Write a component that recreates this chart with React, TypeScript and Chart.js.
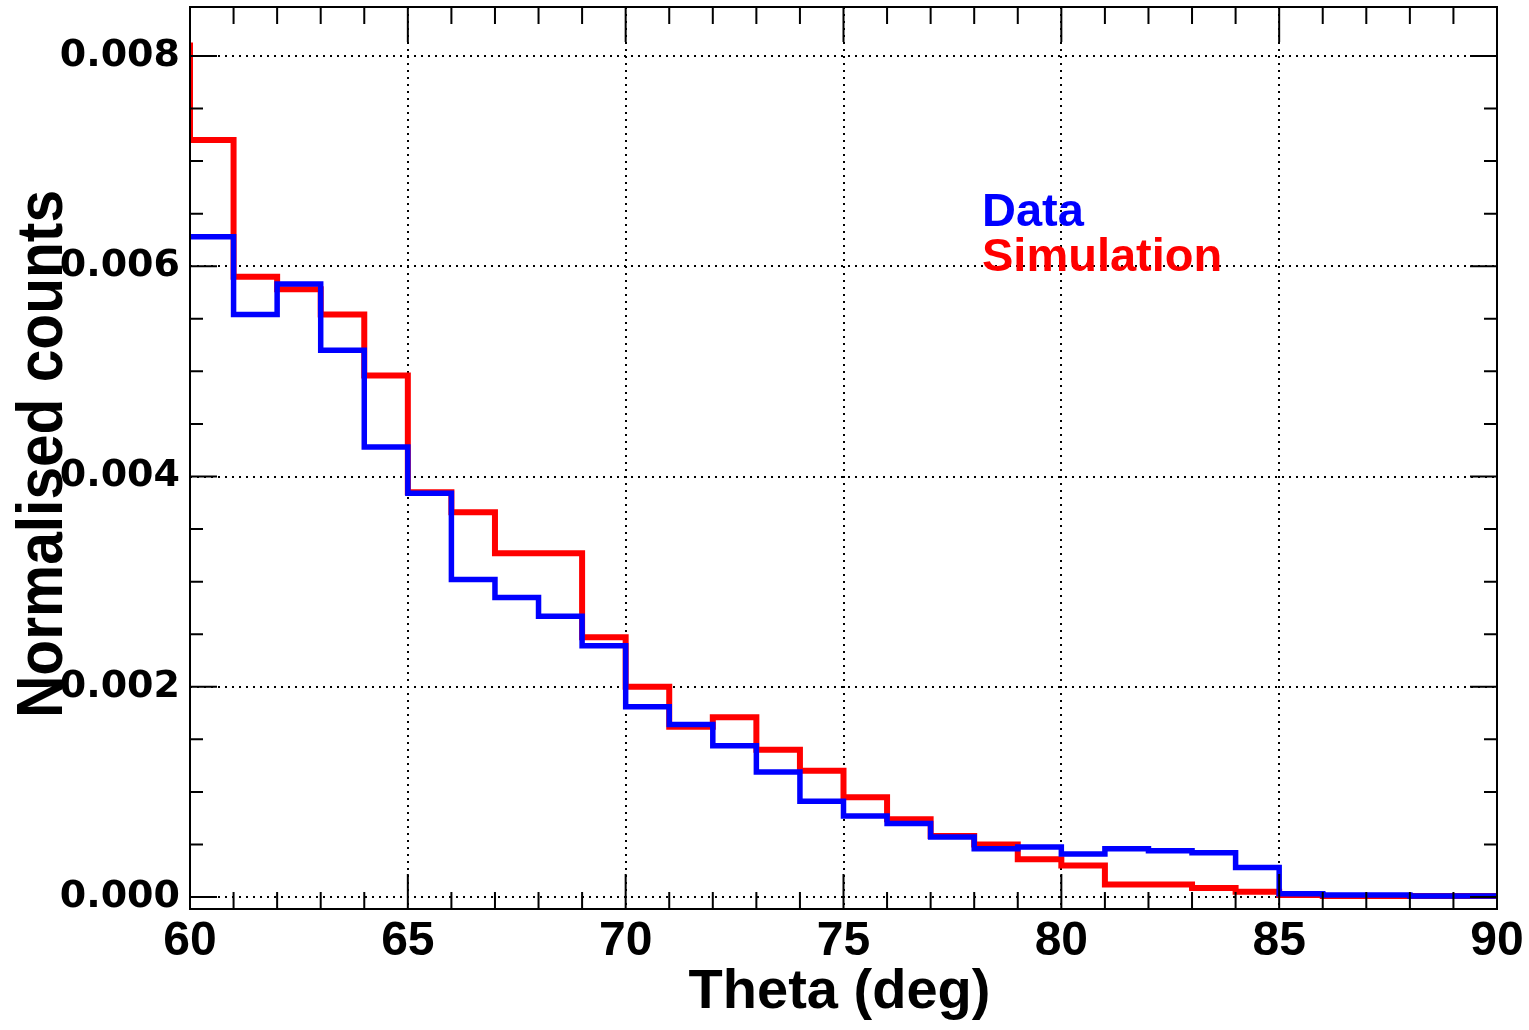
import React, { useEffect, useRef } from "react";
import { Chart, registerables } from "chart.js";

Chart.register(...registerables);

// Bin lower edges (deg); each bin is 1 deg wide, last edge 90
const binEdges = [60, 61, 62, 63, 64, 65, 66, 67, 68, 69, 70, 71, 72, 73, 74, 75, 76, 77, 78, 79, 80, 81, 82, 83, 84, 85, 86, 87, 88, 89, 90];

const dataCounts = [
  0.00628, 0.00554, 0.00583, 0.0052, 0.00428, 0.00384, 0.00302, 0.00285, 0.00267, 0.00239,
  0.00181, 0.00164, 0.00144, 0.00119, 0.00091, 0.00077, 0.0007, 0.00057, 0.00046, 0.000475,
  0.00041, 0.00046, 0.00044, 0.00042, 0.00028, 0.00003, 0.00002, 0.00002, 0.00001, 0.00001,
];

const simCounts = [
  0.0072, 0.0059, 0.00578, 0.00554, 0.00496, 0.00385, 0.00366, 0.00327, 0.00327, 0.00247,
  0.002, 0.00162, 0.00171, 0.0014, 0.0012, 0.00095, 0.00074, 0.00058, 0.0005, 0.00036,
  0.0003, 0.00012, 0.00012, 0.000085, 0.00005, 0.00002, 0.00001, 0.00001, 0.00001, 0.00001,
];

// underflow bin (59-60) of the simulation, visible only as the spike at the left edge
const simUnderflowEdge = 59;
const simUnderflow = 0.0081;

const xTickValues = [60, 65, 70, 75, 80, 85, 90];
const yTickValues = [0, 0.002, 0.004, 0.006, 0.008];

const xTitle = "Theta (deg)";
const yTitle = "Normalised counts";
const legendItems = [
  { label: "Data", color: "#0000ff" },
  { label: "Simulation", color: "#ff0000" },
];

function histPoints(edges: number[], values: number[]) {
  const pts = values.map((v, i) => ({ x: edges[i], y: v }));
  pts.push({ x: edges[values.length], y: values[values.length - 1] });
  return pts;
}

function zeroPad(s: any) {
  s.paddingTop = 0;
  s.paddingBottom = 0;
  s.paddingLeft = 0;
  s.paddingRight = 0;
}

const framePlugin = {
  id: "rootFrame",
  afterDatasetsDraw(chart: any) {
    const { ctx, chartArea } = chart;
    const { left, right, top, bottom } = chartArea;
    const xs = chart.scales.x;
    const ys = chart.scales.y;
    ctx.save();
    ctx.strokeStyle = "#000";
    ctx.lineWidth = 2;
    ctx.beginPath();
    // x ticks: minor every 1, major every 5
    for (let v = xs.min; v <= xs.max + 1e-9; v += 1) {
      const px = xs.getPixelForValue(v);
      const major = xTickValues.includes(Math.round(v));
      const len = major ? 35 : 17;
      ctx.moveTo(px, bottom);
      ctx.lineTo(px, bottom - len);
      ctx.moveTo(px, top);
      ctx.lineTo(px, top + len);
    }
    // y ticks: minor every 0.0005, major every 0.002
    for (let i = 0; i * 0.0005 <= ys.max + 1e-12; i++) {
      const v = i * 0.0005;
      const py = ys.getPixelForValue(v);
      const major = i % 4 === 0;
      const len = major ? 27 : 13;
      ctx.moveTo(left, py);
      ctx.lineTo(left + len, py);
      ctx.moveTo(right, py);
      ctx.lineTo(right - len, py);
    }
    ctx.stroke();
    ctx.strokeRect(left, top, right - left, bottom - top);
    ctx.restore();
  },
  afterDraw(chart: any) {
    const { ctx, chartArea } = chart;
    ctx.save();
    ctx.fillStyle = "#000";
    // x title
    ctx.font = "bold 56px 'Liberation Sans', Arial, sans-serif";
    ctx.textAlign = "center";
    ctx.textBaseline = "alphabetic";
    ctx.fillText(xTitle, (chartArea.left + chartArea.right) / 2 - 4, 1008);
    // y title (rotated, slightly condensed)
    ctx.save();
    ctx.translate(62, (chartArea.top + chartArea.bottom) / 2 - 4);
    ctx.rotate(-Math.PI / 2);
    ctx.font = "bold 64px 'Liberation Sans', Arial, sans-serif";
    const w = ctx.measureText(yTitle).width;
    ctx.scale(528 / w, 1);
    ctx.textAlign = "center";
    ctx.fillText(yTitle, 0, 0);
    ctx.restore();
    // legend
    ctx.font = "bold 47px 'Liberation Sans', Arial, sans-serif";
    ctx.textAlign = "left";
    legendItems.forEach((item, i) => {
      ctx.fillStyle = item.color;
      ctx.fillText(item.label, 982, 226 + i * 45);
    });
    ctx.restore();
  },
};

export default function App() {
  const canvasRef = useRef<HTMLCanvasElement | null>(null);

  useEffect(() => {
    if (!canvasRef.current) return;
    const chart = new Chart(canvasRef.current, {
      type: "line",
      data: {
        datasets: [
          {
            label: "Data",
            data: histPoints(binEdges, dataCounts),
            borderColor: "#0000ff",
            borderWidth: 5.5,
            stepped: "before",
            pointRadius: 0,
            fill: false,
            borderJoinStyle: "miter",
            clip: { left: 0, top: 10, right: 0, bottom: 10 } as any,
          },
          {
            label: "Simulation",
            data: [{ x: simUnderflowEdge, y: simUnderflow }, ...histPoints(binEdges, simCounts)],
            borderColor: "#ff0000",
            borderWidth: 6,
            stepped: "before",
            pointRadius: 0,
            fill: false,
            borderJoinStyle: "miter",
            clip: { left: 0, top: 10, right: 0, bottom: 10 } as any,
          },
        ],
      },
      options: {
        animation: false,
        responsive: true,
        maintainAspectRatio: false,
        layout: { padding: { left: 0, top: 7, right: 32, bottom: 0 } },
        plugins: { legend: { display: false }, tooltip: { enabled: false } },
        scales: {
          x: {
            type: "linear",
            min: 60,
            max: 90,
            afterBuildTicks: (s: any) => {
              s.ticks = xTickValues.map((v) => ({ value: v }));
            },
            afterFit: (s: any) => {
              s.height = 121;
              zeroPad(s);
            },
            ticks: {
              color: "#000",
              padding: 4,
              maxRotation: 0,
              autoSkip: false,
              font: { family: "'Liberation Sans', Arial, sans-serif", size: 48, weight: "bold" },
              callback: (v: any) => String(v),
            },
            grid: { color: "#000", lineWidth: 2, drawTicks: false },
            border: { display: false, dash: [2, 5] },
          },
          y: {
            type: "linear",
            min: -0.000114,
            max: 0.008466,
            afterBuildTicks: (s: any) => {
              s.ticks = yTickValues.map((v) => ({ value: v }));
            },
            afterFit: (s: any) => {
              s.width = 190;
              zeroPad(s);
            },
            ticks: {
              color: "#000",
              padding: 10,
              autoSkip: false,
              font: { family: "'DejaVu Sans', sans-serif", size: 38, weight: "bold" },
              callback: (v: any) => Number(v).toFixed(3),
            },
            grid: { color: "#000", lineWidth: 2, drawTicks: false },
            border: { display: false, dash: [2, 5] },
          },
        },
      },
      plugins: [framePlugin],
    });
    return () => chart.destroy();
  }, []);

  return (
    <div style={{ position: "fixed", left: 0, top: 0, width: 1529, height: 1030, background: "#fff" }}>
      <canvas ref={canvasRef} />
    </div>
  );
}
